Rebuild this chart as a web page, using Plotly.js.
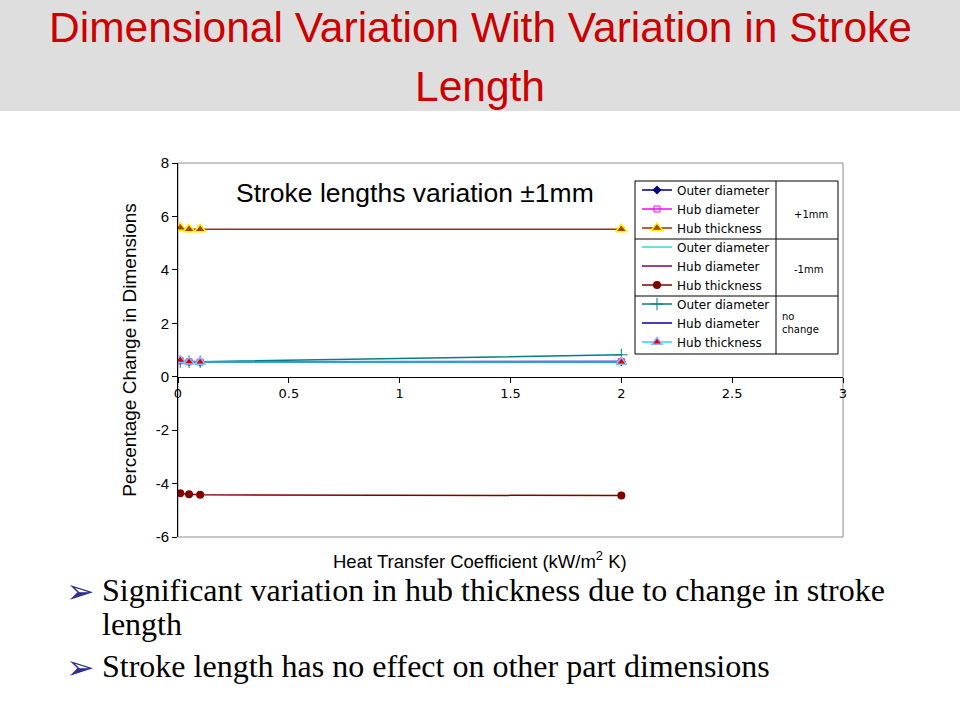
<!DOCTYPE html>
<html>
<head>
<meta charset="utf-8">
<script src="https://cdn.plot.ly/plotly-3.0.1.min.js"></script>
<style>
html,body{margin:0;padding:0;background:#fff;}
#chart{width:960px;height:720px;}
</style>
</head>
<body>
<div id="chart"></div>
<script>
// ---- data ----
var heatTransfer = [0.01, 0.05, 0.1, 2];
var plusOuterDia = [0.62, 0.57, 0.56, 0.57];
var plusHubDia = [0.60, 0.56, 0.55, 0.57];
var plusHubThick = [5.58, 5.52, 5.52, 5.52];
var minusOuterDia = [0.57, 0.55, 0.55, 0.57];
var minusHubDia = [0.57, 0.55, 0.55, 0.56];
var minusHubThick = [-4.36, -4.40, -4.42, -4.45];
var noOuterDia = [0.57, 0.56, 0.56, 0.82];
var noHubDia = [0.58, 0.56, 0.56, 0.55];
var noHubThick = [0.62, 0.56, 0.55, 0.55];
var seriesNames = ["Outer diameter", "Hub diameter", "Hub thickness"];
var groupLabels = ["+1mm", "-1mm", "no<br>change"];
var xTicks = [0, 0.5, 1, 1.5, 2, 2.5, 3];
var yTicks = [-6, -4, -2, 0, 2, 4, 6, 8];

// pixel -> paper helpers (plot area 178..843 x 163..537)
var L = 178, R = 843, T = 163, B = 537;
function px(x){ return (x - L) / (R - L); }
function py(y){ return (B - y) / (B - T); }

function tr(y, name, group, line, marker){
  var t = {x: heatTransfer, y: y, name: name, legendgroup: group,
    type: 'scatter', mode: marker ? 'lines+markers' : 'lines',
    line: line};
  if (marker) t.marker = marker;
  return t;
}

var data = [
  tr(plusOuterDia, seriesNames[0], 'g1', {color:'#000080', width:1.5},
     {symbol:'diamond', size:7, color:'#000080'}),
  tr(plusHubDia, seriesNames[1], 'g1', {color:'#ff00ff', width:1.5},
     {symbol:'square-open', size:6, color:'#ff00ff'}),
  tr(plusHubThick, seriesNames[2], 'g1', {color:'#993300', width:1.5},
     {symbol:'triangle-up', size:10, color:'#a04a00', line:{color:'#ffee00', width:1.5}}),
  tr(minusOuterDia, seriesNames[0], 'g2', {color:'#33dddd', width:1.5}, null),
  tr(minusHubDia, seriesNames[1], 'g2', {color:'#800060', width:1.5}, null),
  tr(minusHubThick, seriesNames[2], 'g2', {color:'#800000', width:1.5},
     {symbol:'circle', size:8, color:'#800000'}),
  tr(noOuterDia, seriesNames[0], 'g3', {color:'#008080', width:1.5},
     {symbol:'cross-thin-open', size:9, color:'#008080', line:{color:'#008080', width:1}}),
  tr(noHubDia, seriesNames[1], 'g3', {color:'#0000aa', width:1.5}, null),
  tr(noHubThick, seriesNames[2], 'g3', {color:'#33ccff', width:1.5},
     {symbol:'triangle-up', size:9, color:'#dd0000', line:{color:'#88bbff', width:1.5}})
];

// legend box geometry (px)
var rowH = 19, firstRow = 191.5;
var boxTop = firstRow - 10.5, boxBot = firstRow + 8*rowH + 10.5;
var div1 = firstRow + 2.5*rowH, div2 = firstRow + 5.5*rowH;
var boxL = 635, boxR = 838, colX = 776;

var shapes = [
  // title banner
  {type:'rect', xref:'paper', yref:'paper', x0:px(-5), x1:px(965), y0:py(111), y1:py(-5),
   fillcolor:'#dedede', line:{width:0}, layer:'below'},
  // plot area border
  {type:'rect', xref:'paper', yref:'paper', x0:0, x1:1, y0:0, y1:1,
   line:{color:'#8c8c8c', width:1}, layer:'below'},
  // legend box
  {type:'rect', xref:'paper', yref:'paper', x0:px(boxL), x1:px(boxR), y0:py(boxBot), y1:py(boxTop),
   fillcolor:'#ffffff', line:{color:'#000', width:1}, layer:'above'},
  {type:'line', xref:'paper', yref:'paper', x0:px(boxL), x1:px(boxR), y0:py(div1), y1:py(div1),
   line:{color:'#000', width:1}, layer:'above'},
  {type:'line', xref:'paper', yref:'paper', x0:px(boxL), x1:px(boxR), y0:py(div2), y1:py(div2),
   line:{color:'#000', width:1}, layer:'above'},
  {type:'line', xref:'paper', yref:'paper', x0:px(colX), x1:px(colX), y0:py(boxBot), y1:py(boxTop),
   line:{color:'#000', width:1}, layer:'above'}
];

var lblFont = {family:'DejaVu Sans, Verdana, sans-serif', size:10, color:'#000'};
var titleFont = {family:'Liberation Sans, Arial, sans-serif', size:42.5, color:'#cc0000'};
var serif = {family:'Liberation Serif, Times New Roman, serif', size:32, color:'#000'};
var arrowFont = {family:'DejaVu Sans', size:34, color:'#2e3192'};

var annotations = [
  {text:'Dimensional Variation With Variation in Stroke', xref:'paper', yref:'paper',
   x:px(480), y:py(28), xanchor:'center', yanchor:'middle', showarrow:false, font:titleFont},
  {text:'Length', xref:'paper', yref:'paper',
   x:px(480), y:py(86), xanchor:'center', yanchor:'middle', showarrow:false, font:titleFont},
  {text:'Stroke lengths variation \u00b11mm', xref:'paper', yref:'paper',
   x:px(415), y:py(193), xanchor:'center', yanchor:'middle', showarrow:false,
   font:{family:'Liberation Sans, Arial, sans-serif', size:26.5, color:'#000'}},
  {text:'Heat Transfer Coefficient (kW/m<sup>2</sup> K)', xref:'paper', yref:'paper',
   x:px(480), y:py(560), xanchor:'center', yanchor:'middle', showarrow:false,
   font:{family:'Liberation Sans, Arial, sans-serif', size:18.5, color:'#000'}},
  {text:groupLabels[0], xref:'paper', yref:'paper', x:px(811), y:py(firstRow + rowH + 4),
   xanchor:'center', yanchor:'middle', showarrow:false, font:lblFont},
  {text:groupLabels[1], xref:'paper', yref:'paper', x:px(808), y:py(firstRow + 4*rowH + 2),
   xanchor:'center', yanchor:'middle', showarrow:false, font:lblFont},
  {text:groupLabels[2], xref:'paper', yref:'paper', x:px(780), y:py(firstRow + 7*rowH - 2),
   xanchor:'left', yanchor:'middle', align:'left', showarrow:false, font:lblFont},
  {text:'\u27a2', xref:'paper', yref:'paper', x:px(64), y:py(591), xanchor:'left', yanchor:'middle',
   showarrow:false, font:arrowFont},
  {text:'Significant variation in hub thickness due to change in stroke', xref:'paper', yref:'paper',
   x:px(100), y:py(590), xanchor:'left', yanchor:'middle', showarrow:false, font:serif},
  {text:'length', xref:'paper', yref:'paper',
   x:px(100), y:py(624), xanchor:'left', yanchor:'middle', showarrow:false, font:serif},
  {text:'\u27a2', xref:'paper', yref:'paper', x:px(64), y:py(667), xanchor:'left', yanchor:'middle',
   showarrow:false, font:arrowFont},
  {text:'Stroke length has no effect on other part dimensions', xref:'paper', yref:'paper',
   x:px(100), y:py(666), xanchor:'left', yanchor:'middle', showarrow:false, font:serif}
];

var layout = {
  width:960, height:720,
  margin:{l:L, r:960-R, t:T, b:720-B, pad:0},
  paper_bgcolor:'#ffffff', plot_bgcolor:'rgba(0,0,0,0)',
  showlegend:true,
  legend:{x:px(637), y:py(firstRow - 16), xanchor:'left', yanchor:'top',
    bgcolor:'rgba(0,0,0,0)', borderwidth:0,
    traceorder:'grouped', tracegroupgap:0,
    font:{family:'DejaVu Sans, Verdana, sans-serif', size:12, color:'#000'}},
  xaxis:{range:[0,3], tickvals:xTicks, ticktext:xTicks.map(String),
    anchor:'free', position:py(376.7),
    showline:true, linecolor:'#000', linewidth:1, ticks:'outside', ticklen:5, tickcolor:'#000',
    showgrid:false, zeroline:false,
    tickfont:{family:'DejaVu Sans, Verdana, sans-serif', size:13, color:'#000'}},
  yaxis:{range:[-6,8], tickvals:yTicks, ticktext:yTicks.map(String),
    showline:true, linecolor:'#000', linewidth:1, ticks:'outside', ticklen:5, tickcolor:'#000',
    showgrid:false, zeroline:false,
    tickfont:{family:'Liberation Sans, Arial, sans-serif', size:15, color:'#000'},
    title:{text:'Percentage Change in Dimensions', standoff:14,
      font:{family:'Liberation Sans, Arial, sans-serif', size:19, color:'#000'}}},
  shapes:shapes,
  annotations:annotations
};

Plotly.newPlot('chart', data, layout, {displayModeBar:false, staticPlot:true});
</script>
</body>
</html>
